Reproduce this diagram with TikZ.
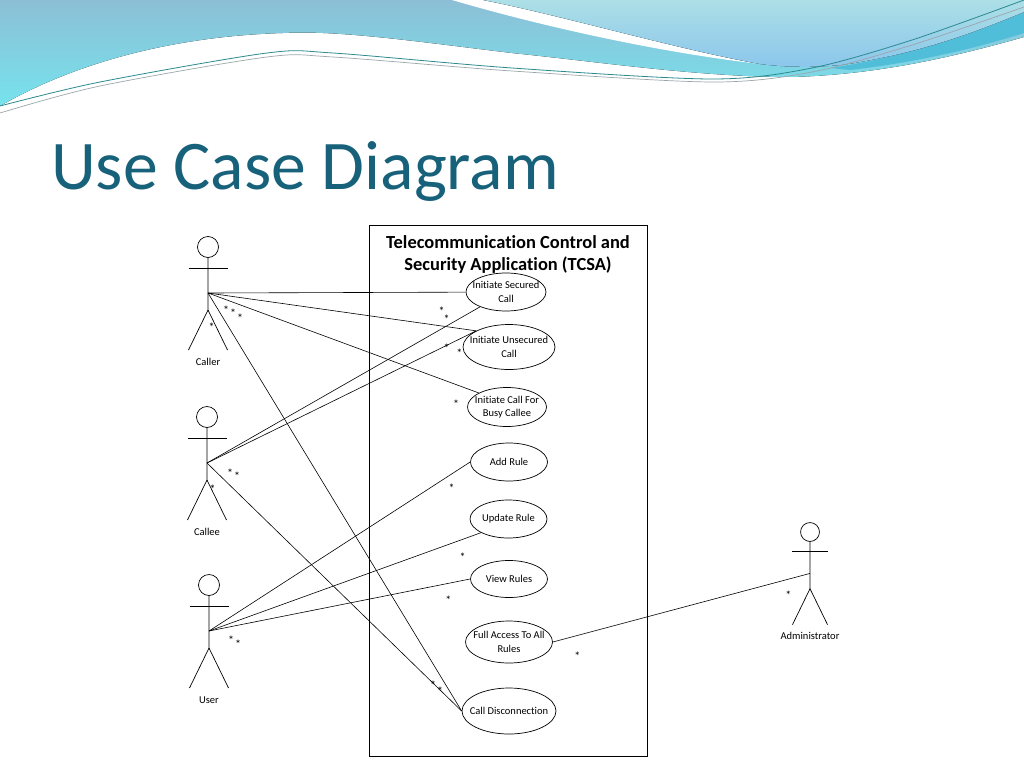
\documentclass[tikz,border=0pt]{standalone}
\usepackage{fontspec}
\setmainfont{Carlito}[Ligatures=NoCommon]
\usetikzlibrary{shapes.geometric}

\definecolor{titleteal}{HTML}{17617B}
\definecolor{wavetop}{HTML}{8CBFD6}
\definecolor{wavebottom}{HTML}{76E3ED}
\definecolor{swirltop}{HTML}{ACDFE6}
\definecolor{swirlbottom}{HTML}{8BC6EC}
\definecolor{waveband}{HTML}{50BDD9}
\definecolor{waveline}{HTML}{2B8A8E}
\definecolor{wavegray}{HTML}{9AA6AA}

\tikzset{
    stickman/.pic={
        \draw[actorline] (0,0) circle[radius=10.5pt];
        \draw[actorline] (-19.5,21.5) -- (19.5,21.5);
        \draw[actorline] (0,10.5) -- (0,63) -- (-19.5,103);
        \draw[actorline] (0,63) -- (19.5,103);
        \coordinate (-hub) at (0,46);
        \node[smalltext] (-name) at (0,115) {#1};
    }
}

\begin{document}
\begin{tikzpicture}[x=1pt, y=-1pt,
    actorline/.style={line width=0.7pt},
    assoc/.style={line width=0.6pt},
    smalltext/.style={font=\fontsize{10.5}{13.3}\selectfont, inner sep=0pt, align=center},
    usecase/.style={draw, ellipse, line width=0.7pt, inner xsep=-12pt, inner ysep=0pt,
        font=\fontsize{10.5}{13.3}\selectfont, align=center},
    mult/.style={font=\fontsize{12}{13}\selectfont, inner sep=0pt, yshift=-2pt}]
    \useasboundingbox (0,0) rectangle (1024,768);
    \fill[white] (0,0) rectangle (1024,768);

    % slide waves
    \fill[top color=wavetop, bottom color=wavebottom] (0,0) -- (1024,0) -- (1024,37)
        .. controls (960,55) and (880,75) .. (790,77) .. controls (700,77) and (600,62) .. (512,53)
        .. controls (420,42) and (340,30) .. (283,33) .. controls (180,36) and (80,60) .. (0,106) -- cycle;
    \fill[waveband] (830,68) .. controls (900,58) and (970,35) .. (1024,12) -- (1024,33)
        .. controls (980,47) and (920,62) .. (850,70) -- cycle;
    \fill[white] (452,0) .. controls (520,20) and (640,50) .. (760,64)
        .. controls (680,50) and (560,15) .. (483,0) -- cycle;
    \fill[top color=swirltop, bottom color=swirlbottom] (483,0) .. controls (560,15) and (680,50) .. (760,64)
        .. controls (790,68) and (830,68) .. (860,62) .. controls (930,50) and (980,30) .. (1024,12) -- (1024,0) -- cycle;
    \draw[waveline, line width=0.8pt] plot[smooth] coordinates {(0,106) (100,82) (267,53) (333,53) (512,68) (712,79) (812,68) (912,40) (1024,0)};
    \draw[wavegray, line width=0.7pt] plot[smooth] coordinates {(0,113) (100,86) (267,57) (333,57) (512,71) (712,82) (812,72) (912,45) (1024,7)};

    \node[anchor=base west, text=titleteal, font=\fontsize{69.7}{80}\selectfont, inner sep=0pt] (title) at (51,189) {Use Case Diagram};

    \draw[line width=1pt] (369,225) rectangle (647,756);
    \node[font=\bfseries\fontsize{18.45}{22}\selectfont, align=center, inner sep=0pt] (tcsa) at (508,254) {Telecommunication Control and\\Security Application (TCSA)};

    \pic (caller) at (208,247) {stickman=Caller};
    \pic (callee) at (207,417) {stickman=Callee};
    \pic (user) at (209,585) {stickman=User};
    \pic[scale=0.9] (admin) at (810,532) {stickman=Administrator};

    \node[usecase, minimum width=80, minimum height=38] (sec) at (506,292) {Initiate Secured\\Call};
    \node[usecase, minimum width=92, minimum height=45] (unsec) at (509,347) {Initiate Unsecured\\Call};
    \node[usecase, minimum width=79, minimum height=39] (busy) at (507,407) {Initiate Call For\\Busy Callee};
    \node[usecase, minimum width=77, minimum height=38] (addr) at (509,462) {Add Rule};
    \node[usecase, minimum width=77, minimum height=38] (updr) at (508.5,519) {Update Rule};
    \node[usecase, minimum width=77, minimum height=37] (viewr) at (509,579) {View Rules};
    \node[usecase, minimum width=87, minimum height=42] (fullr) at (509,642) {Full Access To All\\Rules};
    \node[usecase, minimum width=94, minimum height=46] (disc) at (509,711) {Call Disconnection};

    \draw[assoc] (caller-hub) -- (sec);
    \draw[assoc] (caller-hub) -- (unsec.north west);
    \draw[assoc] (caller-hub) -- (busy.north west);
    \draw[assoc] (caller-hub) -- (disc.west);
    \draw[assoc] (callee-hub) -- (sec);
    \draw[assoc] (callee-hub) -- (unsec.north west);
    \draw[assoc] (callee-hub) -- (disc.west);
    \draw[assoc] (user-hub) -- (addr.west);
    \draw[assoc] (user-hub) -- (updr.south west);
    \draw[assoc] (user-hub) -- (viewr.west);
    \draw[assoc] (admin-hub) -- (fullr.east);

    \foreach \px/\py [count=\i] in {211.7/325.3, 226/308, 233/311, 240/316, 441.7/309.3, 446.7/317.3,
        446.7/346.7, 459.3/351.3, 456/402.7, 230/471, 237/474, 212.7/487.3, 451.7/486,
        462.7/555, 448.3/598.3, 231/638, 238/642, 577.3/654.3, 433/683, 440/689, 788.3/593.3}
        \node[mult] (mult\i) at (\px,\py) {*};
\end{tikzpicture}
\end{document}
